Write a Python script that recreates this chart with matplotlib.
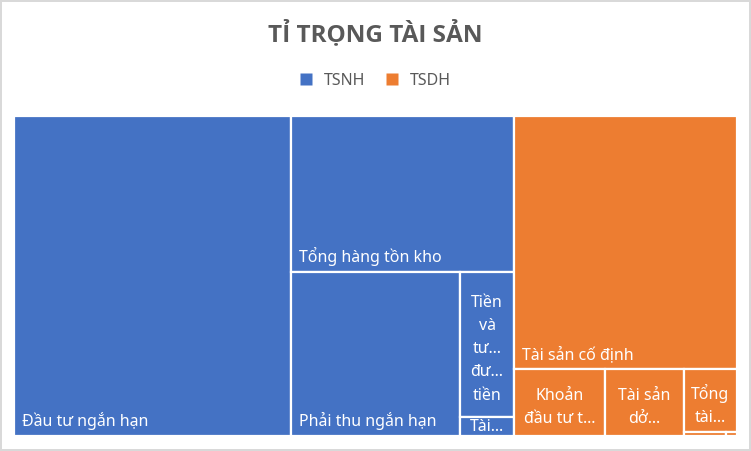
import matplotlib
matplotlib.use("Agg")
import matplotlib.pyplot as plt
from matplotlib.patches import Rectangle
from matplotlib.lines import Line2D

groups = ["TSNH", "TSDH"]
group_colors = ["#4472C4", "#ED7D31"]

tsnh_names = ["Đầu tư ngắn hạn", "Tổng hàng tồn kho", "Phải thu ngắn hạn",
              "Tiền và tương đương tiền", "Tài sản ngắn hạn khác"]
tsnh_values = [886.4, 347.9, 277.2, 78.0, 10.5]

tsdh_names = ["Tài sản cố định", "Khoản đầu tư tài chính dài hạn", "Tài sản dở dang dài hạn",
              "Tổng tài sản dài hạn khác", "Bất động sản đầu tư", "Phải thu dài hạn"]
tsdh_values = [564.2, 60.6, 52.9, 33.4, 1.9, 0.5]

# labels as Excel shows them when they don't fit on one line
short_labels = {
    "Tiền và tương đương tiền": "Tiền\nvà\ntư…\nđư…\ntiền",
    "Tài sản ngắn hạn khác": "Tài…",
    "Khoản đầu tư tài chính dài hạn": "Khoản\nđầu tư t…",
    "Tài sản dở dang dài hạn": "Tài sản\ndở…",
    "Tổng tài sản dài hạn khác": "Tổng\ntài…",
    "Bất động sản đầu tư": "",
    "Phải thu dài hạn": "",
}

TEXT = "#595959"
FONT = "Noto Sans"


def worst(row, side):
    s = sum(row)
    return max(max(side * side * r / (s * s), s * s / (side * side * r)) for r in row)


def squarify(vals, x, y, w, h):
    # squarified treemap, y grows downwards
    total = sum(vals)
    vals = [v * w * h / total for v in vals]
    rects = []
    while vals:
        side = min(w, h)
        row = [vals[0]]
        i = 1
        while i < len(vals) and worst(row + [vals[i]], side) <= worst(row, side):
            row.append(vals[i])
            i += 1
        s = sum(row)
        if w >= h:
            cw = s / h
            yy = y
            for r in row:
                rects.append((x, yy, cw, r / cw))
                yy += r / cw
            x += cw
            w -= cw
        else:
            rh = s / w
            xx = x
            for r in row:
                rects.append((xx, y, r / rh, rh))
                xx += r / rh
            y += rh
            h -= rh
        vals = vals[i:]
    return rects


W, H = 751, 451
fig = plt.figure(figsize=(W / 100, H / 100), dpi=100)
fig.patch.set_facecolor("white")
fig.patch.set_edgecolor("#D9D9D9")
fig.patch.set_linewidth(1.5)

# plot area in pixels
px0, py0, pw, ph = 14, 116, 723, 320
ax = fig.add_axes([px0 / W, 1 - (py0 + ph) / H, pw / W, ph / H])
ax.set_xlim(0, pw)
ax.set_ylim(ph, 0)
ax.axis("off")

group_items = [(tsnh_names, tsnh_values), (tsdh_names, tsdh_values)]
group_rects = squarify([sum(v) for _, v in group_items], 0, 0, pw, ph)

for (names, values), grect, color in zip(group_items, group_rects, group_colors):
    for name, (x, y, w, h) in zip(names, squarify(values, *grect)):
        rect = Rectangle((x, y), w, h, facecolor=color, edgecolor="white", linewidth=1.6)
        ax.add_patch(rect)
        if name in short_labels:
            lab = short_labels[name]
            if not lab:
                continue
            if h < 30:
                t = ax.text(x + w / 2, y + 2, lab, ha="center", va="top", color="white",
                            fontsize=11.5, family=FONT, linespacing=1.6)
            else:
                t = ax.text(x + w / 2, y + h / 2 + 5, lab, ha="center", va="center", color="white",
                            fontsize=11.5, family=FONT, linespacing=1.6)
            t.set_clip_path(rect)
        else:
            ax.text(x + 8, y + h - 10, name, ha="left", va="baseline", color="white",
                    fontsize=11.5, family=FONT)

fig.text(0.5, 1 - 41 / H, "TỈ TRỌNG TÀI SẢN", ha="center", va="baseline",
         fontsize=17.5, fontweight="bold", color=TEXT, family="Open Sans")

handles = [Line2D([], [], linestyle="none", marker="s", markersize=8,
                  markerfacecolor=c, markeredgecolor="none") for c in group_colors]
fig.legend(handles, groups, loc="center", bbox_to_anchor=(0.5, 1 - 81 / H), ncol=2,
           frameon=False, handlelength=0.8, handletextpad=0.7,
           columnspacing=1.3, prop={"family": FONT, "size": 11.5}, labelcolor=TEXT)

fig.savefig("out.png", dpi=100)
